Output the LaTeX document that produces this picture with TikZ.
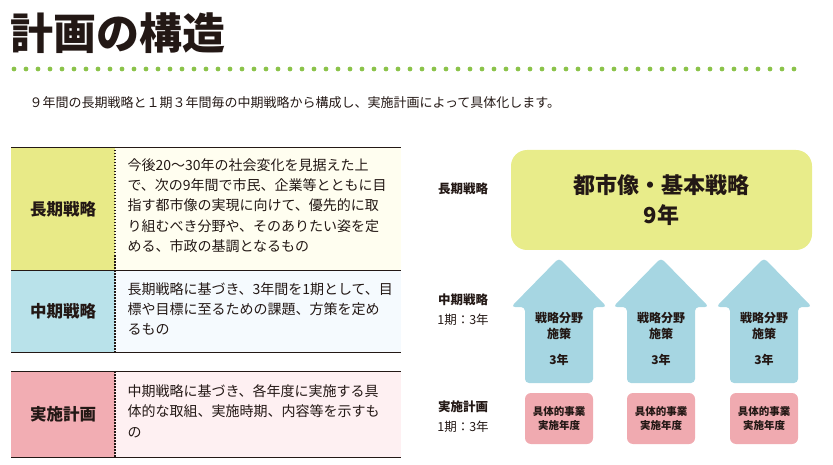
\documentclass[tikz,border=0pt]{standalone}
\usepackage{fontspec}
\setmainfont{Noto Sans CJK JP}
\definecolor{ylab}{HTML}{E8EA87}\definecolor{ybg}{HTML}{FFFEF0}
\definecolor{blab}{HTML}{B9E2EA}\definecolor{bbg}{HTML}{F5FAFE}
\definecolor{plab}{HTML}{F2ADB3}\definecolor{pbg}{HTML}{FEF0F2}
\definecolor{arrc}{HTML}{A6D6E2}\definecolor{bigc}{HTML}{E8EC8A}
\definecolor{pinkc}{HTML}{F0AAB0}\definecolor{dotg}{HTML}{8BC34A}
\definecolor{txt}{HTML}{231815}
\begin{document}
\begin{tikzpicture}[x=1pt,y=-1pt,color=txt,
  lab/.style={font=\fontsize{16.5}{18}\selectfont\bfseries},
  desc/.style={anchor=north west,align=left,font=\fontsize{14}{20.3}\selectfont},
  side/.style={align=center,font=\fontsize{12.5}{20}\selectfont},
  arr/.style={fill=arrc,rounded corners=4pt},
  pbox/.style={fill=pinkc,rounded corners=6pt,minimum width=68pt,minimum height=51pt,align=center,font=\fontsize{10.5}{14}\selectfont\bfseries}]
\useasboundingbox (0,0) rectangle (833,465);
\node[anchor=west,font=\fontsize{43}{45}\selectfont\bfseries,inner sep=0pt] (title) at (10,33) {計画の構造};
\foreach \i in {0,...,65} \fill[dotg] (14+\i*12,69) circle (2.4pt);
\node[anchor=west,font=\fontsize{13}{15}\selectfont] (sub) at (26,103) {９年間の長期戦略と１期３年間毎の中期戦略から構成し、実施計画によって具体化します。};
% table
\fill[ylab] (11,147) rectangle (115,270); \fill[ybg] (115,147) rectangle (401,270);
\fill[blab] (11,270) rectangle (115,352); \fill[bbg] (115,270) rectangle (401,352);
\fill[plab] (11,371) rectangle (115,457); \fill[pbg] (115,371) rectangle (401,457);
\foreach \y in {147,270,352,371,457} \draw[line width=0.8pt] (11,\y) -- (401,\y);
\draw[line width=1.6pt,dash pattern=on 1.5pt off 1.5pt] (115,147) -- (115,352);
\draw[line width=1.6pt,dash pattern=on 1.5pt off 1.5pt] (115,371) -- (115,457);
\node[lab] (l1) at (63,209) {長期戦略};
\node[lab] (l2) at (63,311) {中期戦略};
\node[lab] (l3) at (63,414) {実施計画};
\node[desc] (d1) at (124,155) {今後20～30年の社会変化を見据えた上\\で、次の9年間で市民、企業等とともに目\\指す都市像の実現に向けて、優先的に取\\り組むべき分野や、そのありたい姿を定\\める、市政の基調となるもの};
\node[desc] (d2) at (124,279) {長期戦略に基づき、3年間を1期として、目\\標や目標に至るための課題、方策を定め\\るもの};
\node[desc] (d3) at (124,381) {中期戦略に基づき、各年度に実施する具\\体的な取組、実施時期、内容等を示すも\\の};
% right
\node[side,font=\fontsize{12.5}{15}\selectfont\bfseries] (s1) at (463,189) {長期戦略};
\node[side] (s2) at (463,310) {\textbf{中期戦略}\\1期：3年};
\node[side] (s3) at (463,417) {\textbf{実施計画}\\1期：3年};
\node[fill=bigc,rounded corners=16pt,minimum width=301pt,minimum height=100pt,align=center,font=\fontsize{22}{30}\selectfont\bfseries] (big) at (661.5,200) {都市像・基本戦略\\9年};
\foreach \dx/\n in {0/a,102/b,205/c}{
  \begin{scope}[xshift=\dx pt]
  \fill[arr] (525,383) -- (525,307) -- (511,307) -- (559,258) -- (607,307) -- (593,307) -- (593,383) -- cycle;
  \node[align=center,font=\fontsize{12}{16}\selectfont\bfseries] (t\n) at (559,339) {戦略分野\\施策\\[10pt]3年};
  \node[pbox] (p\n) at (559,418.5) {具体的事業\\実施年度};
  \end{scope}}
\end{tikzpicture}
\end{document}
